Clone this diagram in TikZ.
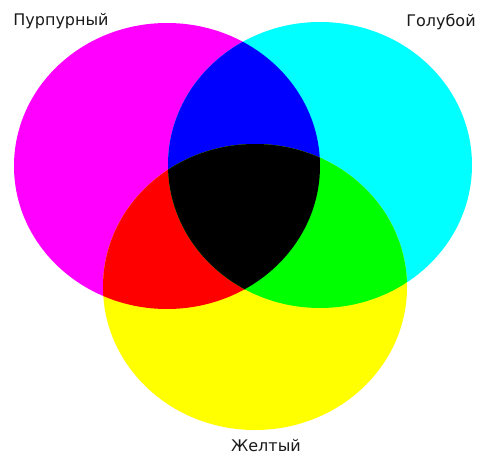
\documentclass[tikz,border=0pt]{standalone}
\usepackage{fontspec}
\setmainfont{DejaVu Sans}
\usepackage{xcolor}
\definecolor{cmymag}{HTML}{FF00FF}
\definecolor{cmycyan}{HTML}{00FFFF}
\definecolor{cmyyel}{HTML}{FFFF00}
\definecolor{cmyblue}{HTML}{0000FF}
\definecolor{cmyred}{HTML}{FF0000}
\definecolor{cmygreen}{HTML}{00FF00}
\definecolor{cmytext}{HTML}{1A1A1A}
\usepackage{tikz}

\begin{document}
\begin{tikzpicture}[x=1pt,y=-1pt,
  lbl/.style={font=\fontsize{16}{19}\selectfont\color{cmytext}, inner sep=0pt}]

  \useasboundingbox (0,0) rectangle (477,455);

  %% the three inks
  \fill[cmymag]  (167,166) ellipse [x radius=153, y radius=143];
  \fill[cmycyan] (320,165) ellipse [x radius=152, y radius=143];
  \fill[cmyyel]  (255,287) ellipse [x radius=152, y radius=143];

  %% magenta + cyan
  \begin{scope}
    \clip (167,166) ellipse [x radius=153, y radius=143];
    \fill[cmyblue] (320,165) ellipse [x radius=152, y radius=143];
  \end{scope}

  %% magenta + yellow
  \begin{scope}
    \clip (167,166) ellipse [x radius=153, y radius=143];
    \fill[cmyred] (255,287) ellipse [x radius=152, y radius=143];
  \end{scope}

  %% cyan + yellow
  \begin{scope}
    \clip (320,165) ellipse [x radius=152, y radius=143];
    \fill[cmygreen] (255,287) ellipse [x radius=152, y radius=143];
  \end{scope}

  %% all three
  \begin{scope}
    \clip (167,166) ellipse [x radius=153, y radius=143];
    \clip (320,165) ellipse [x radius=152, y radius=143];
    \fill[black] (255,287) ellipse [x radius=152, y radius=143];
  \end{scope}

  %% labels
  \node[lbl] (magname) at (61,21)  {Пурпурный};
  \node[lbl] (cyanname) at (441,22) {Голубой};
  \node[lbl] (yelname) at (266,446) {Желтый};

\end{tikzpicture}
\end{document}
